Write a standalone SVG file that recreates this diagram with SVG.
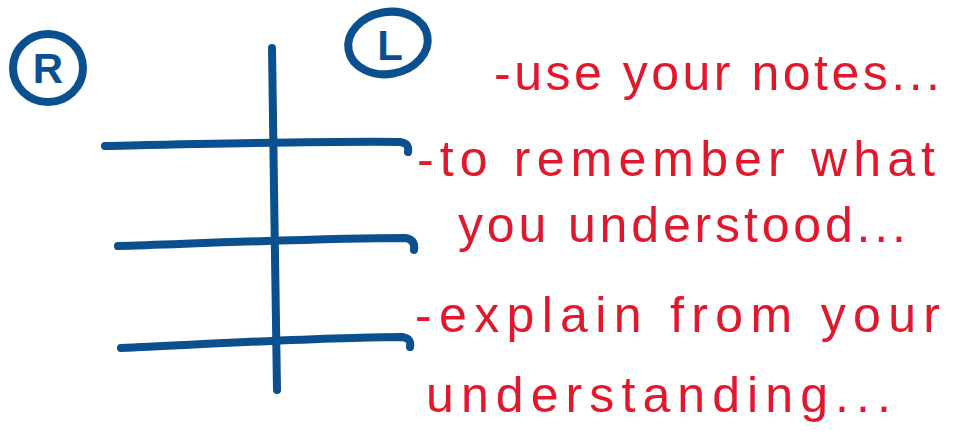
<svg xmlns="http://www.w3.org/2000/svg" width="959" height="437" viewBox="0 0 959 437">
<style>
.ink{fill:none;stroke:#0a4f8e;stroke-width:8;stroke-linecap:round;stroke-linejoin:round}
.lbl{font-family:"Liberation Sans",Arial,sans-serif;font-size:42px;font-weight:bold;fill:#0a4f8e}
.note{font-family:"Liberation Sans",Arial,sans-serif;font-size:50px;fill:#e3172b}
</style>
<rect width="959" height="437" fill="#fff"/>
<g id="grid">
<path class="ink" d="M272,48 C273,160 276,280 277,390"/>
<path class="ink" d="M105,146 C200,144 330,141 400,142 C407,143 409,146 408,152"/>
<path class="ink" d="M118,246 C210,243 330,238 405,238 C412,239 415,243 414,250"/>
<path class="ink" d="M121,348 C210,344 330,337 402,337 C409,338 411,341 410,347"/>
</g>
<g id="label-r">
<ellipse class="ink" cx="48" cy="68" rx="35" ry="34"/>
<text class="lbl" x="48" y="83" text-anchor="middle">R</text>
</g>
<g id="label-l">
<ellipse class="ink" cx="388" cy="43" rx="40" ry="31" transform="rotate(-10 388 43)"/>
<text class="lbl" x="390" y="60" text-anchor="middle">L</text>
</g>
<g id="notes">
<text class="note" x="494" y="90" textLength="446" lengthAdjust="spacing">-use your notes...</text>
<text class="note" x="417" y="176" textLength="518" lengthAdjust="spacing">-to remember what</text>
<text class="note" x="458" y="242" textLength="448" lengthAdjust="spacing">you understood...</text>
<text class="note" x="415" y="332" textLength="525" lengthAdjust="spacing">-explain from your</text>
<text class="note" x="426" y="412" textLength="465" lengthAdjust="spacing">understanding...</text>
</g>
</svg>
